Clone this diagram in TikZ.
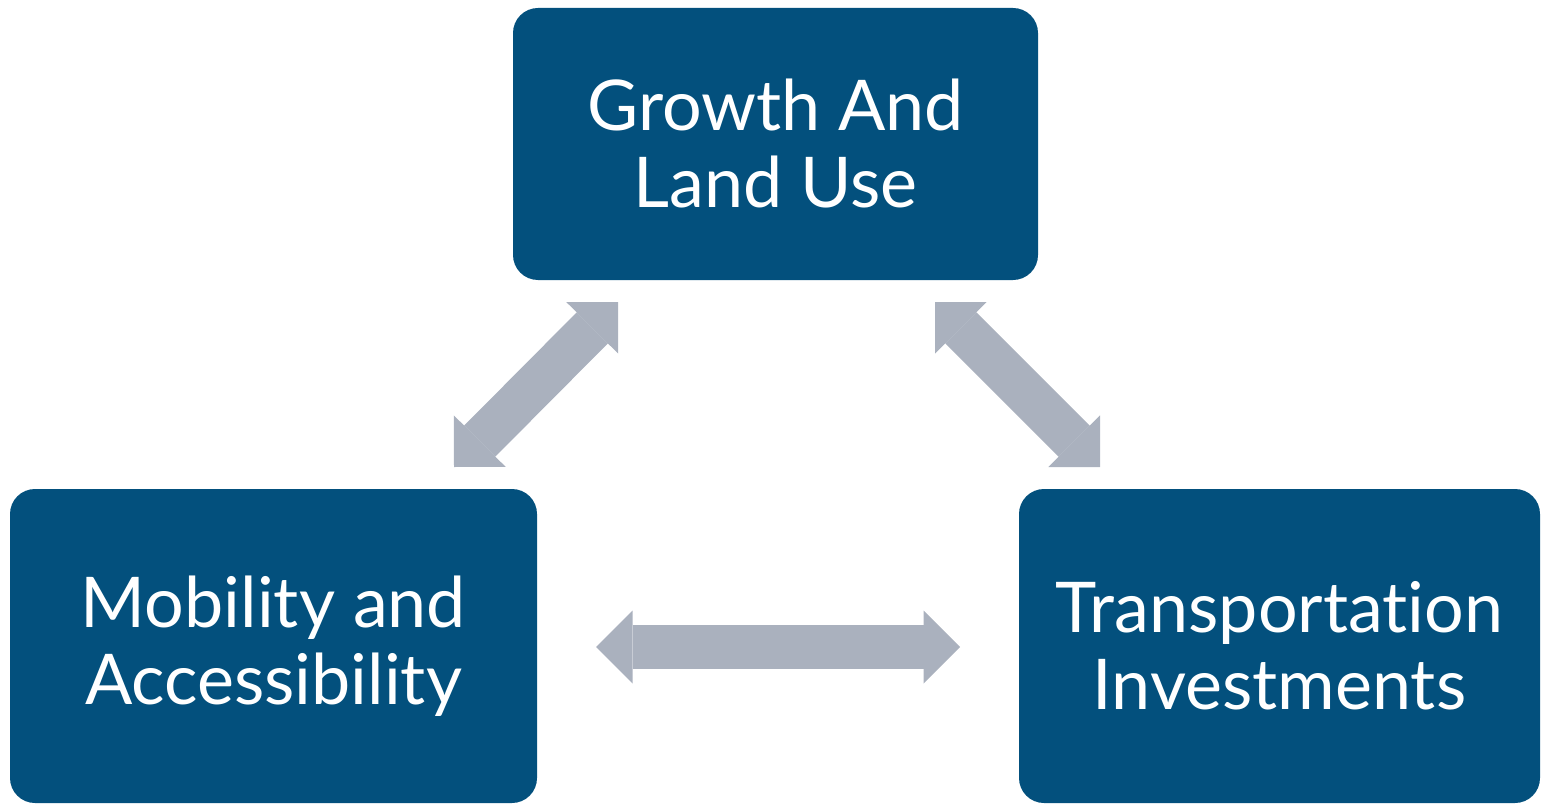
\documentclass[tikz,border=0pt]{standalone}
\usepackage{fontspec}
\setmainfont{Lato}[Ligatures=NoCommon]
\usetikzlibrary{arrows.meta}
\definecolor{boxblue}{HTML}{03507D}
\definecolor{linkgray}{HTML}{AAB1BE}
\begin{document}
\begin{tikzpicture}[x=1pt,y=-1pt,
  topic/.style={fill=boxblue,rounded corners=25pt,text=white,align=center,
    inner sep=0pt,font=\fontsize{70}{77}\selectfont},
  link/.style={draw=linkgray,line width=44pt,
    {Triangle[width=73pt,length=36.5pt,line width=0pt]}-{Triangle[width=73pt,length=36.5pt,line width=0pt]}}]
\useasboundingbox (0,0) rectangle (1541,805);
% topics
\node[topic,minimum width=525pt,minimum height=272pt] (growth) at (775.5,144) {Growth And\\Land Use};
\node[topic,minimum width=527pt,minimum height=314pt] (mobility) at (273.5,646) {Mobility and\\Accessibility};
\node[topic,minimum width=521pt,minimum height=314pt] (invest) at (1279.5,646) {Transportation\\Investments};
% link ends
\coordinate (gm1) at (618,302);
\coordinate (gm2) at (454,467);
\coordinate (gi1) at (935,302);
\coordinate (gi2) at (1100,467);
\coordinate (mi1) at (596,647);
\coordinate (mi2) at (960,647);
% links
\draw[link] (gm1) -- (gm2);
\draw[link] (gi1) -- (gi2);
\draw[link] (mi1) -- (mi2);
\end{tikzpicture}
\end{document}
